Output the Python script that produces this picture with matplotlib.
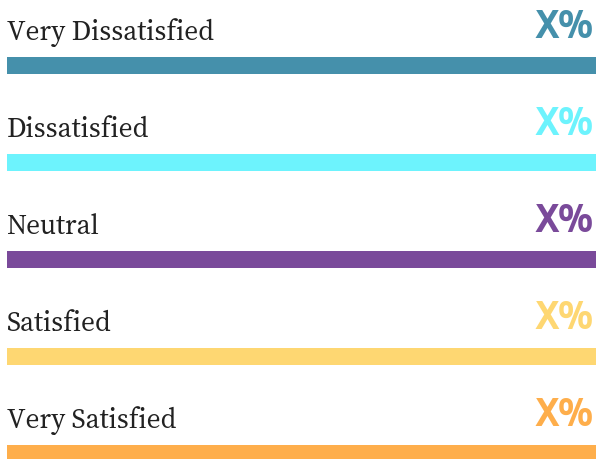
import matplotlib
matplotlib.use("Agg")
import matplotlib.pyplot as plt

categories = ["Very Dissatisfied", "Dissatisfied", "Neutral", "Satisfied", "Very Satisfied"]
values = [100, 100, 100, 100, 100]
value_labels = ["X%", "X%", "X%", "X%", "X%"]
colors = ["#4590AB", "#6DF3FD", "#7A4A9A", "#FED772", "#FEAE4B"]

fig = plt.figure(figsize=(5.97, 4.60), dpi=100)
ax = fig.add_axes([7 / 597, 0, 589 / 597, 1])

ypos = list(range(len(categories)))
ax.barh(ypos, values, height=0.175, color=colors)

for i, (cat, lab, col) in enumerate(zip(categories, value_labels, colors)):
    ax.text(0, i - 0.273, cat, fontsize=19.8, family=["Source Serif 4", "DejaVu Serif"],
            color="#222222", ha="left", va="baseline")
    ax.text(99.6, i - 0.29, lab, fontsize=27, family=["Encode Sans Condensed", "DejaVu Sans"],
            fontweight="bold", color=col, ha="right", va="baseline")

ax.set_xlim(0, 100)
ax.set_ylim(4.0567, -0.6856)
ax.axis("off")

fig.savefig("out.png", dpi=100)
